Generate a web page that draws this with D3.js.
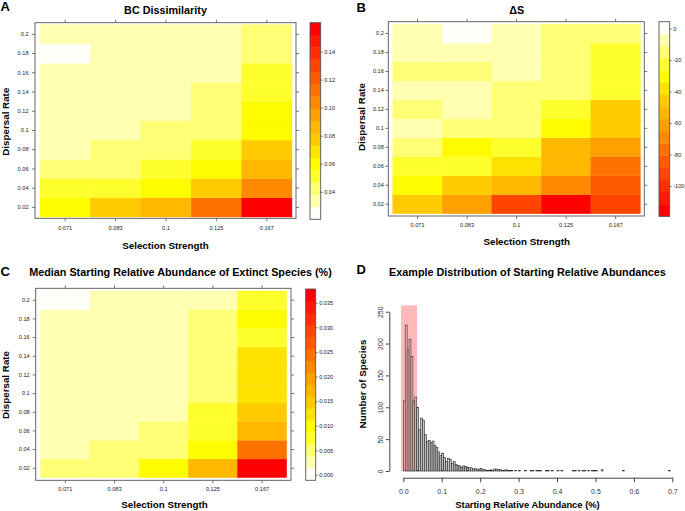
<!DOCTYPE html>
<html><head><meta charset="utf-8">
<script src="https://cdnjs.cloudflare.com/ajax/libs/d3/7.8.5/d3.min.js"></script>
<style>
html,body{margin:0;padding:0;background:#fff;}
svg{display:block;font-family:"Liberation Sans",Arial,Helvetica,sans-serif;}
</style></head>
<body><svg id="chart" width="685" height="511"></svg>
<script>
// ---------------- DATA ----------------
const selection = ["0.071", "0.083", "0.1", "0.125", "0.167"];
const dispersal = ["0.02", "0.04", "0.06", "0.08", "0.1", "0.12", "0.14", "0.16", "0.18", "0.2"];

// rows: dispersal 0.02 -> 0.2 ; columns: selection 0.071 -> 0.167
const bcValues = [
  [0.060, 0.077, 0.086, 0.110, 0.1606],
  [0.051, 0.052, 0.060, 0.075, 0.104],
  [0.043, 0.043, 0.051, 0.059, 0.086],
  [0.034, 0.042, 0.043, 0.050, 0.074],
  [0.034, 0.034, 0.042, 0.042, 0.060],
  [0.034, 0.033, 0.034, 0.042, 0.060],
  [0.034, 0.033, 0.034, 0.042, 0.051],
  [0.034, 0.033, 0.033, 0.034, 0.051],
  [0.0204, 0.033, 0.033, 0.034, 0.043],
  [0.034, 0.033, 0.033, 0.034, 0.043]
];
const dsValues = [
  [-46, -61, -92, -119.2, -90],
  [-30, -45, -54, -69, -84],
  [-23, -24, -38, -53, -77],
  [-15, -30, -22, -52, -63],
  [-6, -15, -15, -29, -46],
  [-14, -7, -15, -25, -47],
  [-7, -8, -15, -14, -24],
  [-15, -16, -6, -15, -24],
  [-8, -7, -6, -14, -24],
  [-8, 4.4, -7, -15, -17]
];
const medValues = [
  [0.0050, 0.0050, 0.0098, 0.0182, 0.0378],
  [0.0025, 0.0050, 0.0050, 0.0098, 0.0244],
  [0.0025, 0.0025, 0.0050, 0.0074, 0.0171],
  [0.0025, 0.0025, 0.0025, 0.0074, 0.0147],
  [0.0025, 0.0025, 0.0025, 0.0050, 0.0123],
  [0.0025, 0.0025, 0.0025, 0.0050, 0.0123],
  [0.0025, 0.0025, 0.0025, 0.0050, 0.0123],
  [0.0025, 0.0025, 0.0025, 0.0050, 0.0074],
  [0.0025, 0.0025, 0.0025, 0.0050, 0.0098],
  [-0.0011, 0.0025, 0.0025, 0.0025, 0.0074]
];
const bcRange = [0.0204, 0.1606];
const dsRange = [-119.2, 4.4];
const medRange = [-0.0011, 0.0378];
const bcTicks = [0.04, 0.06, 0.08, 0.10, 0.12, 0.14];
const dsTicks = [0, -20, -40, -60, -80, -100];
const medTicks = [0, 0.005, 0.010, 0.015, 0.020, 0.025, 0.030, 0.035];

// light -> dark
const heatPalette = ["#FFFFFA", "#FFFFB2", "#FFFF75", "#FFFF2E", "#FFFC00", "#FFE300", "#FFCB00", "#FFB700",
  "#FF9F00", "#FF8A00", "#FF7200", "#FF5A00", "#FF4500", "#FF2D00", "#FF1800", "#FF0000"];

// histogram (bins of width 0.005 starting at 0)
const histBinWidth = 0.005;
const histCounts = [
  110, 229, 190, 207, 180, 110, 116, 100, 65, 83,
  80, 57, 46, 48, 45, 47, 40, 37, 30, 24,
  28, 21, 15, 20, 18, 12, 15, 10, 9, 8,
  6, 8, 7, 6, 5, 5, 3, 4, 2, 3,
  4, 2, 2, 1, 1, 2, 1, 3, 3, 2,
  2, 1, 1, 2, 1, 1, 1, 0, 1, 0,
  1, 0, 0, 1, 0, 0, 1, 1, 0, 1,
  1, 1, 0, 0, 1, 1, 0, 1, 0, 0,
  1, 0, 1, 0, 0, 0, 0, 0, 1, 1,
  0, 1, 0, 1, 1, 0, 1, 0, 1, 1,
  1, 0, 0, 2, 0, 0, 0, 0, 0, 0,
  0, 0, 0, 0, 1, 0, 0, 0, 0, 0,
  0, 0, 0, 0, 0, 0, 0, 0, 0, 0,
  0, 0, 0, 0, 0, 0, 0, 0, 1, 0
];
const highlightRange = [-0.006, 0.036];
const highlightTop = 260;
const histXTicks = [0, 0.1, 0.2, 0.3, 0.4, 0.5, 0.6, 0.7];
const histYTicks = [0, 50, 100, 150, 200, 250];

// ---------------- DRAW ----------------
const svg = d3.select("#chart");
const FONT_TICK = 5.6, FONT_AX = 9.8, FONT_TITLE = 10.8;

function heatPanel(cfg) {
  const g = svg.append("g");
  const x = d3.scaleBand().domain(selection).range([cfg.cells[0], cfg.cells[2]]);
  const y = d3.scaleBand().domain(dispersal).range([cfg.cells[3], cfg.cells[1]]);
  const color = d3.scaleQuantize().domain(cfg.range).range(cfg.palette);

  // cells
  cfg.values.forEach((row, i) => {
    row.forEach((v, j) => {
      g.append("rect")
        .attr("x", x(selection[j])).attr("y", y(dispersal[i]))
        .attr("width", x.bandwidth()).attr("height", y.bandwidth())
        .attr("fill", color(v)).attr("stroke", color(v)).attr("stroke-width", 0.4);
    });
  });
  // frame
  const [fx0, fy0, fx1, fy1] = cfg.frame;
  g.append("rect").attr("x", fx0).attr("y", fy0).attr("width", fx1 - fx0).attr("height", fy1 - fy0)
    .attr("fill", "none").attr("stroke", "#555").attr("stroke-width", 0.9);

  const styleAxis = (sel) => {
    sel.select(".domain").remove();
    sel.selectAll(".tick line").attr("stroke", "#555").attr("stroke-width", 0.8);
    sel.selectAll(".tick text").attr("font-size", FONT_TICK).attr("fill", "#222").attr("font-family", null);
  };
  g.append("g").attr("transform", `translate(0,${fy1})`)
    .call(d3.axisBottom(x).tickSize(3).tickPadding(cfg.padB)).call(styleAxis);
  g.append("g").attr("transform", `translate(0,${fy0})`)
    .call(d3.axisTop(x).tickSize(3).tickFormat("")).call(styleAxis);
  g.append("g").attr("transform", `translate(${fx0},0)`)
    .call(d3.axisLeft(y).tickSize(3).tickPadding(cfg.padL)).call(styleAxis);
  g.append("g").attr("transform", `translate(${fx1},0)`)
    .call(d3.axisRight(y).tickSize(3).tickFormat("")).call(styleAxis);

  // colour key
  const [kx0, ky0, kx1, ky1] = cfg.key;
  const ks = d3.scaleLinear().domain(cfg.range).range([ky1, ky0]);
  color.range().forEach(c => {
    const [a, b] = color.invertExtent(c);
    g.append("rect").attr("x", kx0).attr("width", kx1 - kx0)
      .attr("y", Math.min(ks(a), ks(b))).attr("height", Math.abs(ks(a) - ks(b)) + 0.3)
      .attr("fill", c);
  });
  g.append("rect").attr("x", kx0).attr("y", ky0).attr("width", kx1 - kx0).attr("height", ky1 - ky0)
    .attr("fill", "none").attr("stroke", "#555").attr("stroke-width", 0.9);
  g.append("g").attr("transform", `translate(${kx1},0)`)
    .call(d3.axisRight(ks).tickValues(cfg.ticks).tickSize(2).tickPadding(1.5).tickFormat(cfg.fmt))
    .call(styleAxis);

  // titles
  g.append("text").attr("x", cfg.title[0]).attr("y", cfg.title[1]).attr("text-anchor", "middle")
    .attr("font-size", FONT_TITLE).attr("font-weight", "bold").text(cfg.titleText);
  g.append("text").attr("x", cfg.xlab[0]).attr("y", cfg.xlab[1]).attr("text-anchor", "middle")
    .attr("font-size", FONT_AX).attr("font-weight", "bold").text("Selection Strength");
  g.append("text").attr("transform", `translate(${cfg.ylab[0]},${cfg.ylab[1]}) rotate(-90)`)
    .attr("text-anchor", "middle").attr("font-size", FONT_AX).attr("font-weight", "bold").text("Dispersal Rate");
  g.append("text").attr("x", cfg.letter[0]).attr("y", cfg.letter[1])
    .attr("font-size", 13).attr("font-weight", "bold").text(cfg.letterText);
}

heatPanel({
  values: bcValues, range: bcRange, palette: heatPalette, ticks: bcTicks, fmt: d3.format(".2f"),
  frame: [35, 22.7, 296, 218.3], cells: [40, 24.7, 292, 217], key: [310, 22.7, 320.7, 219.3],
  padB: 5, padL: 3.5,
  title: [165.5, 14], titleText: "BC Dissimilarity",
  xlab: [165.5, 249.3], ylab: [9, 121.7], letter: [0.5, 11], letterText: "A"
});
heatPanel({
  values: dsValues, range: dsRange, palette: heatPalette.slice().reverse(), ticks: dsTicks, fmt: d => String(d),
  frame: [388.3, 21.7, 644.3, 216], cells: [392.8, 24, 640.4, 213.7], key: [659, 21.7, 669.7, 216.3],
  padB: 4, padL: 1.5,
  title: [516.7, 13.5], titleText: "\u0394S",
  xlab: [526.7, 245.2], ylab: [365.2, 117], letter: [356.5, 11.5], letterText: "B"
});
heatPanel({
  values: medValues, range: medRange, palette: heatPalette, ticks: medTicks, fmt: d3.format(".3f"),
  frame: [35.7, 288.3, 291, 480.3], cells: [40.7, 290.9, 286.7, 477.6], key: [305.7, 289, 315.7, 480.3],
  padB: 3.5, padL: 3,
  title: [180.5, 276.3], titleText: "Median Starting Relative Abundance of Extinct Species (%)",
  xlab: [164.5, 507.6], ylab: [9, 385], letter: [0.5, 275.7], letterText: "C"
});

// ---------------- Histogram (D) ----------------
(function () {
  const g = svg.append("g");
  const x = d3.scaleLinear().domain([0, 0.7]).range([403.3, 672.3]);
  const y = d3.scaleLinear().domain([0, 250]).range([471, 311.7]);

  g.append("rect")
    .attr("x", x(highlightRange[0])).attr("width", x(highlightRange[1]) - x(highlightRange[0]))
    .attr("y", y(highlightTop)).attr("height", y(0) - y(highlightTop))
    .attr("fill", "#FFB9B9");

  g.selectAll("rect.bar").data(histCounts).join("rect").attr("class", "bar")
    .attr("x", (d, i) => x(i * histBinWidth))
    .attr("width", (d, i) => x((i + 1) * histBinWidth) - x(i * histBinWidth))
    .attr("y", d => y(d)).attr("height", d => y(0) - y(d))
    .attr("fill", (d, i) => ((i + 1) * histBinWidth <= highlightRange[1] ? "#FFB9B9" : "#C4C4C4"))
    .attr("stroke", "#2a2a2a").attr("stroke-width", 0.6);

  const yAx = g.append("g").attr("transform", `translate(389.3,0)`)
    .call(d3.axisLeft(y).tickValues(histYTicks).tickSize(3.5).tickSizeOuter(0));
  yAx.select(".domain").attr("stroke", "#444");
  yAx.selectAll(".tick line").attr("stroke", "#444");
  yAx.selectAll(".tick text").attr("font-size", 7).attr("fill", "#333").attr("font-family", null)
    .attr("transform", "rotate(-90)").attr("x", 0).attr("y", -6.8).attr("dy", null).attr("text-anchor", "middle");

  const xAx = g.append("g").attr("transform", `translate(0,477.7)`)
    .call(d3.axisBottom(x).tickValues(histXTicks).tickSize(4.6).tickSizeOuter(0).tickPadding(6.9).tickFormat(d3.format(".1f")));
  xAx.select(".domain").attr("stroke", "#444");
  xAx.selectAll(".tick line").attr("stroke", "#444");
  xAx.selectAll(".tick text").attr("font-size", 7).attr("fill", "#333").attr("font-family", null);

  g.append("text").attr("x", 527.5).attr("y", 276.2).attr("text-anchor", "middle")
    .attr("font-size", FONT_TITLE).attr("font-weight", "bold").text("Example Distribution of Starting Relative Abundances");
  g.append("text").attr("x", 527.5).attr("y", 507.8).attr("text-anchor", "middle")
    .attr("font-size", 9.4).attr("font-weight", "bold").text("Starting Relative Abundance (%)");
  g.append("text").attr("transform", `translate(365.6,384) rotate(-90)`).attr("text-anchor", "middle")
    .attr("font-size", FONT_AX).attr("font-weight", "bold").text("Number of Species");
  g.append("text").attr("x", 356.5).attr("y", 274.3)
    .attr("font-size", 13).attr("font-weight", "bold").text("D");
})();
</script>
</body></html>
